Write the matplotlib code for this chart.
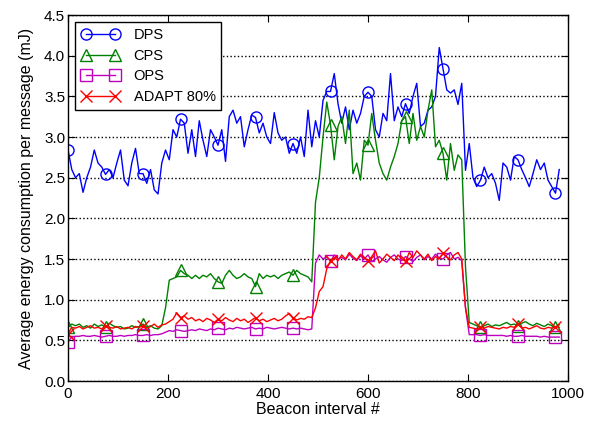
import numpy as np
import matplotlib
matplotlib.use("Agg")
import matplotlib.pyplot as plt

plt.rcParams['font.family'] = ['Liberation Sans', 'DejaVu Sans']

# beacon interval sampled every 7.5
step = 7.5

dps = [2.84, 2.6, 2.5, 2.55, 2.32, 2.5, 2.63, 2.84, 2.68, 2.63,
       2.54, 2.6, 2.5, 2.68, 2.84, 2.47, 2.4, 2.68, 2.86, 2.55,
       2.55, 2.43, 2.6, 2.35, 2.3, 2.68, 2.84, 2.72, 3.09, 3.0,
       3.22, 3.17, 2.8, 3.09, 2.76, 3.2, 2.96, 2.76, 3.09, 3.0,
       2.9, 3.09, 2.7, 3.25, 3.33, 3.17, 3.25, 2.88, 3.09, 3.27,
       3.24, 3.05, 3.17, 3.0, 2.92, 3.3, 3.05, 2.96, 3.0, 2.8,
       2.92, 2.8, 3.0, 2.76, 3.33, 2.88, 3.2, 3.0, 3.45, 3.56,
       3.56, 3.78, 3.41, 3.17, 3.37, 3.09, 3.33, 3.17, 3.29, 3.5,
       3.55, 3.5, 3.09, 3.0, 3.29, 3.2, 3.78, 3.2, 3.37, 3.25,
       3.41, 3.29, 3.5, 3.66, 3.13, 3.17, 3.33, 3.37, 3.5, 4.1,
       3.84, 3.58, 3.54, 3.58, 3.4, 3.66, 2.59, 2.92, 2.5, 2.39,
       2.47, 2.63, 2.5, 2.55, 2.43, 2.22, 2.68, 2.63, 2.47, 2.76,
       2.72, 2.6, 2.5, 2.39, 2.55, 2.72, 2.6, 2.68, 2.47, 2.39,
       2.31, 2.6]

cps = [0.66, 0.7, 0.68, 0.7, 0.66, 0.68, 0.65, 0.7, 0.67, 0.69,
       0.66, 0.71, 0.68, 0.66, 0.67, 0.64, 0.65, 0.68, 0.66, 0.67,
       0.7, 0.66, 0.68, 0.65, 0.64, 0.68, 0.9, 1.24, 1.26, 1.28,
       1.36, 1.32, 1.3, 1.26, 1.3, 1.26, 1.3, 1.28, 1.32, 1.26,
       1.22, 1.2, 1.3, 1.36, 1.3, 1.26, 1.28, 1.32, 1.28, 1.26,
       1.16, 1.32, 1.26, 1.3, 1.28, 1.3, 1.26, 1.3, 1.32, 1.34,
       1.3, 1.36, 1.32, 1.3, 1.28, 1.22, 2.2, 2.5, 3.0, 3.43,
       3.15, 2.72, 3.13, 3.25, 2.92, 3.33, 2.55, 2.68, 2.47, 2.96,
       2.9, 3.29, 2.96, 2.68, 2.55, 2.47, 2.63, 2.76, 2.92, 3.2,
       3.25, 2.92, 3.29, 2.96, 3.13, 3.0, 3.33, 3.58, 2.88, 2.96,
       2.8, 2.47, 2.92, 2.59, 2.78, 2.72, 1.4, 0.72, 0.7, 0.68,
       0.66, 0.68, 0.7, 0.67, 0.69, 0.68, 0.7, 0.72, 0.69, 0.7,
       0.68, 0.71, 0.73, 0.7, 0.68, 0.71, 0.69, 0.67, 0.7, 0.68,
       0.66, 0.69]

ops = [0.48, 0.54, 0.55, 0.55, 0.56, 0.55, 0.55, 0.56, 0.55, 0.54,
       0.55, 0.56, 0.55, 0.55, 0.56, 0.55, 0.56, 0.56, 0.57, 0.56,
       0.56, 0.57, 0.56, 0.57, 0.57, 0.58, 0.6, 0.62, 0.61, 0.63,
       0.62, 0.61, 0.62, 0.63, 0.62, 0.64, 0.63, 0.62, 0.64, 0.63,
       0.65, 0.64, 0.63, 0.65, 0.64, 0.66, 0.65, 0.64, 0.65, 0.66,
       0.64, 0.65, 0.64, 0.66, 0.65, 0.64, 0.65, 0.66, 0.65, 0.64,
       0.65, 0.64, 0.65, 0.64, 0.63, 0.64, 1.45, 1.55, 1.5, 1.53,
       1.47, 1.55, 1.5, 1.52, 1.49, 1.56, 1.51, 1.48, 1.54, 1.5,
       1.55, 1.47, 1.5, 1.53, 1.49, 1.46, 1.52, 1.55, 1.5, 1.48,
       1.53, 1.5, 1.47, 1.52, 1.55, 1.49, 1.53, 1.5, 1.56, 1.51,
       1.5, 1.55, 1.58, 1.5, 1.52, 1.48, 0.9, 0.57, 0.57, 0.57,
       0.56, 0.57, 0.56, 0.56, 0.56, 0.56, 0.56, 0.55, 0.56, 0.55,
       0.55, 0.56, 0.55, 0.55, 0.55, 0.55, 0.54, 0.55, 0.54, 0.54,
       0.54, 0.54]

adapt = [0.58, 0.66, 0.65, 0.67, 0.64, 0.66, 0.68, 0.65, 0.66, 0.64,
         0.68, 0.66, 0.65, 0.67, 0.64, 0.65, 0.66, 0.64, 0.67, 0.66,
         0.68, 0.65, 0.67, 0.7, 0.66, 0.69, 0.7, 0.73, 0.76, 0.84,
         0.78, 0.8, 0.76, 0.78, 0.74, 0.76, 0.73, 0.77, 0.75, 0.72,
         0.76, 0.74, 0.78, 0.75, 0.73, 0.77, 0.74, 0.76, 0.72, 0.75,
         0.78, 0.74, 0.76, 0.73, 0.75, 0.77, 0.74, 0.76, 0.8, 0.83,
         0.78, 0.75, 0.77, 0.76, 0.79, 0.78, 0.9, 1.1, 1.16, 1.38,
         1.48, 1.52, 1.48, 1.55, 1.5, 1.58, 1.53, 1.49, 1.56, 1.51,
         1.48, 1.53, 1.6, 1.45, 1.5, 1.56, 1.52, 1.48, 1.55, 1.5,
         1.47, 1.58, 1.52, 1.6, 1.55, 1.5, 1.56, 1.48, 1.53, 1.5,
         1.57, 1.52, 1.49, 1.55, 1.58, 1.5, 0.9, 0.66, 0.65, 0.64,
         0.66, 0.65, 0.67, 0.66, 0.65, 0.64, 0.66, 0.65, 0.67, 0.66,
         0.7, 0.65, 0.66, 0.64, 0.66, 0.68, 0.65, 0.64, 0.66, 0.65,
         0.67, 0.66]

labels = ['DPS', 'CPS', 'OPS', 'ADAPT 80%']

x = np.arange(len(dps)) * step

fig = plt.figure(figsize=(5.9, 4.24), dpi=100)
ax = fig.add_axes([0.1153, 0.1014, 0.8474, 0.8632])

ax.plot(x, dps, color='b', marker='o', markevery=10, mfc='none', mec='b',
        ms=8, lw=1.0, label=labels[0])
ax.plot(x, cps, color='g', marker='^', markevery=10, mfc='none', mec='g',
        ms=8, lw=1.0, label=labels[1])
ax.plot(x, ops, color='m', marker='s', markevery=10, mfc='none', mec='m',
        ms=8, lw=1.0, label=labels[2])
ax.plot(x, adapt, color='r', marker='x', markevery=10, mec='r',
        ms=8, mew=1.0, lw=1.0, label=labels[3])

ax.set_xlim(0, 1000)
ax.set_ylim(0, 4.5)
ax.set_xticks(np.arange(0, 1001, 200))
ax.set_yticks(np.arange(0, 4.51, 0.5))
ax.set_yticklabels(['%.1f' % v for v in np.arange(0, 4.51, 0.5)])
ax.tick_params(direction='in', top=True, right=True, labelsize=11, length=5)
ax.tick_params(axis='y', pad=2)
ax.tick_params(axis='x', pad=4)
ax.yaxis.grid(True, linestyle=':', color='k', lw=1.0)
for s in ax.spines.values():
    s.set_linewidth(1.0)

ax.set_xlabel('Beacon interval #', fontsize=11.5, labelpad=1)
ax.set_ylabel('Average energy consumption per message (mJ)', fontsize=11.5, labelpad=7)

leg = ax.legend(loc='upper left', numpoints=2, fontsize=10.5, fancybox=False,
                edgecolor='k', framealpha=1, borderaxespad=0.5,
                handlelength=2.6, labelspacing=0.45, handletextpad=1.0)
leg.get_frame().set_linewidth(1.0)

fig.savefig('out.png', dpi=100)
